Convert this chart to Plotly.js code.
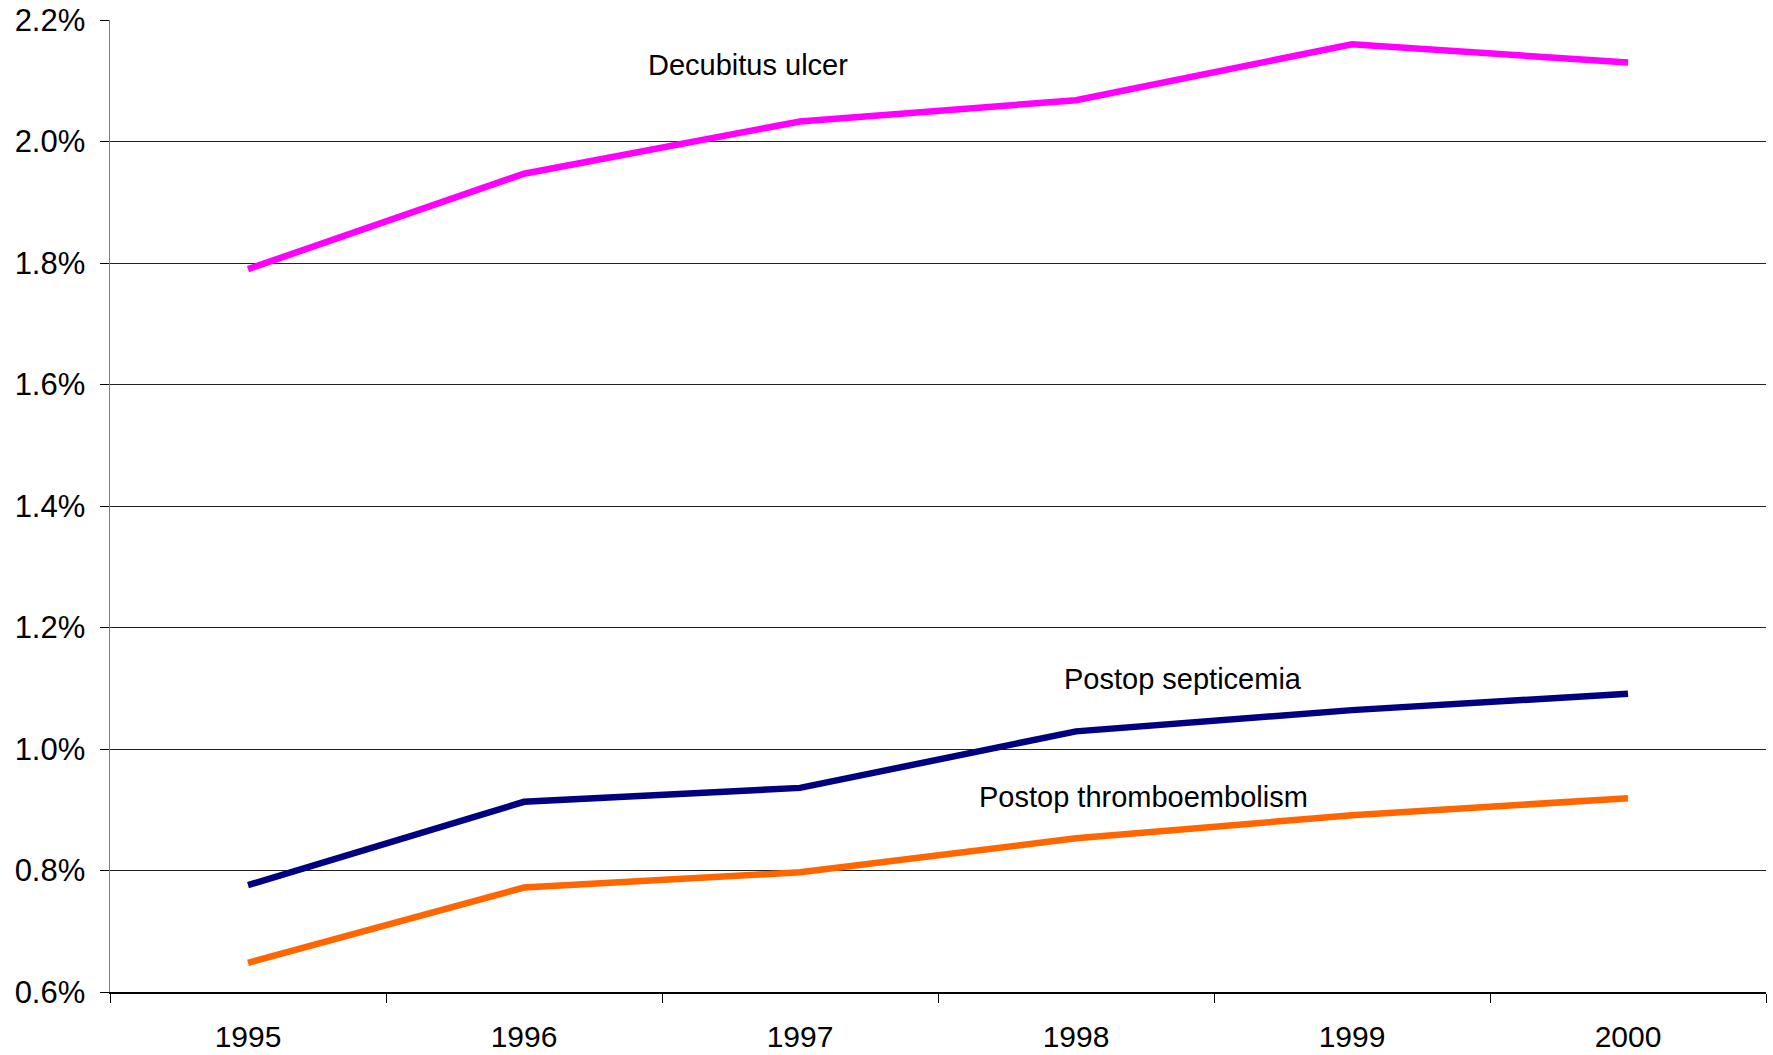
<!DOCTYPE html>
<html>
<head>
<meta charset="utf-8">
<script src="https://cdn.plot.ly/plotly-3.0.1.min.js"></script>
<style>html,body{margin:0;padding:0;background:#fff;}#chart{width:1773px;height:1055px;}</style>
</head>
<body>
<div id="chart"></div>
<script>
const years = ['1995', '1996', '1997', '1998', '1999', '2000'];
const decubitusUlcer = [1.79, 1.947, 2.033, 2.068, 2.16, 2.13];
const postopSepticemia = [0.776, 0.913, 0.936, 1.029, 1.064, 1.091];
const postopThromboembolism = [0.648, 0.772, 0.797, 0.853, 0.891, 0.919];
const seriesNames = ['Decubitus ulcer', 'Postop septicemia', 'Postop thromboembolism'];
const yTicks = [0.6, 0.8, 1.0, 1.2, 1.4, 1.6, 1.8, 2.0, 2.2];

const font = 'Liberation Sans, Arial, sans-serif';
const mk = (y, color) => ({
  x: years, y: y, type: 'scatter', mode: 'lines',
  line: {color: color, width: 6.5}, showlegend: false, hoverinfo: 'skip'
});
const data = [
  mk(decubitusUlcer, '#FF00FF'),
  mk(postopSepticemia, '#000080'),
  mk(postopThromboembolism, '#FF6600')
];
const ann = (text, x, y) => ({
  text: text, xref: 'paper', yref: 'paper', x: x, y: y,
  xanchor: 'center', yanchor: 'middle', showarrow: false,
  font: {family: font, size: 29, color: '#000'}
});
const layout = {
  width: 1773, height: 1055,
  margin: {l: 110, r: 7, t: 20, b: 63},
  paper_bgcolor: '#fff', plot_bgcolor: '#fff',
  font: {family: font, size: 30, color: '#000'},
  xaxis: {
    type: 'category', range: [-0.5, 5.5],
    showgrid: false, zeroline: false,
    showline: true, linecolor: '#000', linewidth: 1.5,
    ticks: 'outside', tickson: 'boundaries', ticklen: 9, tickcolor: '#000', tickwidth: 1,
    tickfont: {family: font, size: 30, color: '#000'},
    ticklabelstandoff: 17
  },
  yaxis: {
    range: [0.6, 2.2], tickmode: 'array', tickvals: yTicks,
    ticktext: yTicks.map(v => v.toFixed(1) + '%'),
    showgrid: true, gridcolor: '#222', gridwidth: 1, zeroline: false,
    showline: true, linecolor: '#808080', linewidth: 1.5,
    ticks: 'outside', ticklen: 9, tickcolor: '#000', tickwidth: 1,
    tickfont: {family: font, size: 31, color: '#000'},
    ticklabelstandoff: 8
  },
  annotations: [
    ann(seriesNames[0], 0.3853, 0.9537),
    ann(seriesNames[1], 0.648, 0.322),
    ann(seriesNames[2], 0.6238, 0.2006)
  ]
};
Plotly.newPlot('chart', data, layout, {staticPlot: true, displayModeBar: false});
</script>
</body>
</html>
